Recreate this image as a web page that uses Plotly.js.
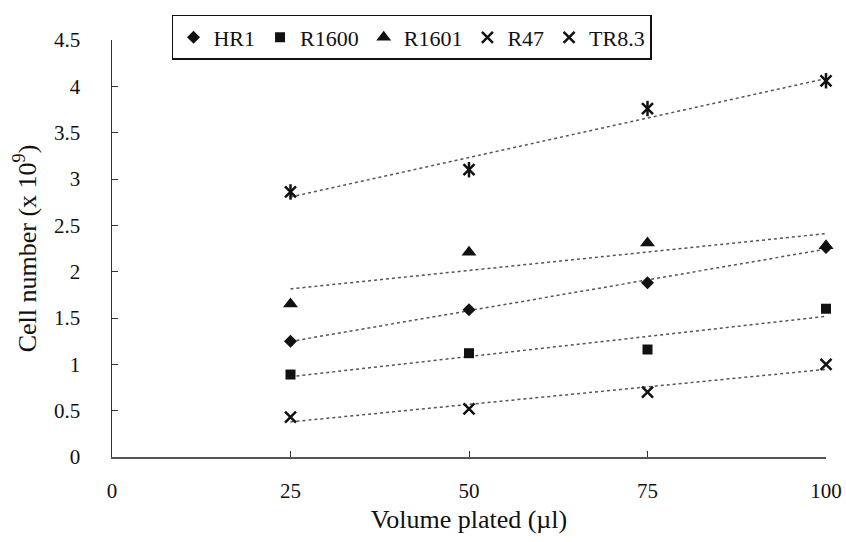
<!DOCTYPE html>
<html><head><meta charset="utf-8">
<script src="https://cdn.plot.ly/plotly-3.0.1.min.js"></script>
<style>html,body{margin:0;padding:0;background:#fff}#chart{width:846px;height:542px}</style>
</head><body><div id="chart"></div>
<script>
const volumes = [25, 50, 75, 100];
const seriesNames = ["HR1", "R1600", "R1601", "R47", "TR8.3"];
const hr1 = [1.25, 1.59, 1.88, 2.26];
const r1600 = [0.89, 1.12, 1.16, 1.60];
const r1601 = [1.65, 2.21, 2.31, 2.28];
const r47 = [0.43, 0.52, 0.70, 1.00];
const tr83 = [2.86, 3.10, 3.76, 4.06];
const xTicks = [0, 25, 50, 75, 100];
const yTicks = [0, 0.5, 1, 1.5, 2, 2.5, 3, 3.5, 4, 4.5];
const yTickText = ["0", "0.5", "1", "1.5", "2", "2.5", "3", "3.5", "4", "4.5"];

const FONT = "'Liberation Serif', 'Times New Roman', serif";
const symbols = ["diamond", "square", "triangle-up", "x-thin-open", "x-thin-open"];
const sizes = [10, 10, 13, 11, 11];
const allSeries = [hr1, r1600, r1601, r47, tr83];

function fit(xs, ys) {
  const n = xs.length;
  const mx = xs.reduce((a, b) => a + b, 0) / n;
  const my = ys.reduce((a, b) => a + b, 0) / n;
  let sxy = 0, sxx = 0;
  for (let i = 0; i < n; i++) { sxy += (xs[i] - mx) * (ys[i] - my); sxx += (xs[i] - mx) ** 2; }
  const b = sxy / sxx, a = my - b * mx;
  return xs.map(x => a + b * x);
}

const traces = [];
allSeries.forEach((ys, i) => {
  traces.push({
    x: volumes, y: fit(volumes, ys), mode: "lines", showlegend: false, hoverinfo: "skip",
    line: {color: "#555", width: 1.5, dash: "3px,3px"}, cliponaxis: false
  });
});
allSeries.forEach((ys, i) => {
  const open = symbols[i].indexOf("open") >= 0;
  traces.push({
    x: volumes, y: ys, mode: "markers", name: seriesNames[i], cliponaxis: false,
    marker: {symbol: symbols[i], size: sizes[i], color: "#111",
      line: {color: "#111", width: open ? 2.5 : 0}}
  });
});
// vertical bar of the star marker for TR8.3
traces.push({
  x: volumes, y: tr83, mode: "markers", showlegend: false, cliponaxis: false, hoverinfo: "skip",
  marker: {symbol: "line-ns-open", size: 11, color: "#111", line: {color: "#111", width: 2.5}}
});

const layout = {
  width: 846, height: 542,
  paper_bgcolor: "#fff", plot_bgcolor: "#fff",
  margin: {l: 112, r: 20, t: 40, b: 85},
  font: {family: FONT, color: "#111", size: 20},
  xaxis: {
    range: [0, 100], tickvals: xTicks, ticktext: xTicks.map(String),
    showgrid: false, zeroline: false, showline: true, linecolor: "#555", linewidth: 1.5,
    ticks: "inside", ticklen: 6, tickcolor: "#333", ticklabelstandoff: 14,
    tickfont: {family: FONT, size: 21, color: "#111"},
    title: {text: "Volume plated (µl)", font: {family: FONT, size: 26, color: "#111"}, standoff: 8}
  },
  yaxis: {
    range: [0, 4.5], tickvals: yTicks, ticktext: yTickText,
    showgrid: false, zeroline: false, showline: true, linecolor: "#333", linewidth: 1.5,
    ticks: "inside", ticklen: 6, tickcolor: "#333", ticklabelstandoff: 26,
    tickfont: {family: FONT, size: 21, color: "#111"},
    title: {text: "Cell number (x 10<sup>9</sup>)", font: {family: FONT, size: 26, color: "#111"}, standoff: 10}
  },
  legend: {
    orientation: "h", x: 0.084, y: 1.06, xanchor: "left", yanchor: "top",
    bordercolor: "#111", borderwidth: 1.5, bgcolor: "#fff",
    font: {family: FONT, size: 22, color: "#111"}, itemwidth: 30, tracegroupgap: 0
  },
  showlegend: true
};

Plotly.newPlot("chart", traces, layout, {displayModeBar: false, staticPlot: true});
</script></body></html>
